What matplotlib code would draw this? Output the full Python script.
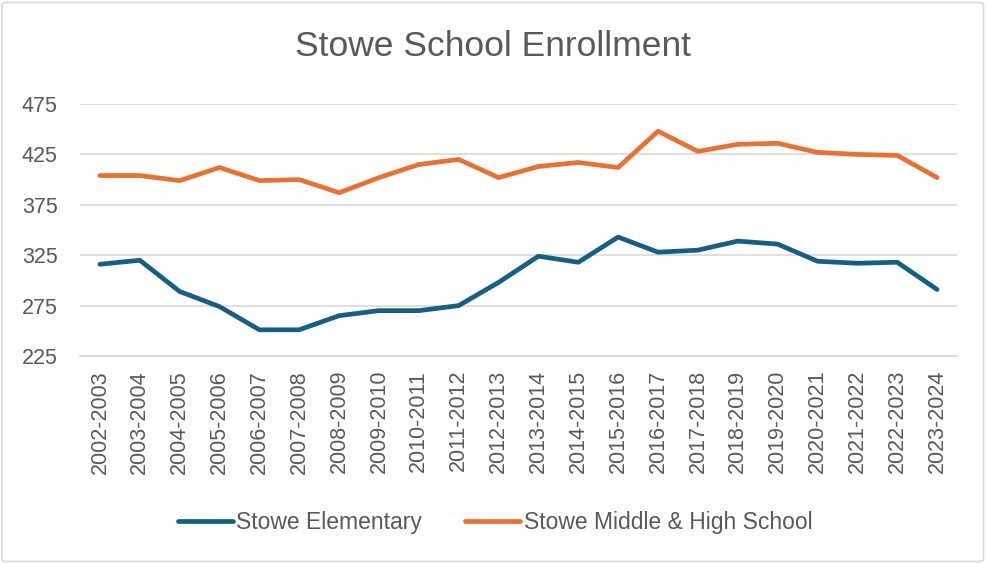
import matplotlib
matplotlib.use("Agg")
import matplotlib.pyplot as plt
from matplotlib.patches import FancyBboxPatch

years = ["2002-2003", "2003-2004", "2004-2005", "2005-2006", "2006-2007", "2007-2008",
         "2008-2009", "2009-2010", "2010-2011", "2011-2012", "2012-2013", "2013-2014",
         "2014-2015", "2015-2016", "2016-2017", "2017-2018", "2018-2019", "2019-2020",
         "2020-2021", "2021-2022", "2022-2023", "2023-2024"]
elementary = [316, 320, 289, 274, 251, 251, 265, 270, 270, 275, 298, 324,
              318, 343, 328, 330, 339, 336, 319, 317, 318, 291]
middle_high = [404, 404, 399, 412, 399, 400, 387, 402, 415, 420, 402, 413,
               417, 412, 448, 428, 435, 436, 427, 425, 424, 402]
yticks = [225, 275, 325, 375, 425, 475]

BLUE = "#156082"
ORANGE = "#E97132"
TXT = "#595959"
GRID = "#D9D9D9"
FONT = "Liberation Sans"

W, H = 986, 563
fig = plt.figure(figsize=(W / 100, H / 100), dpi=100)
ax = fig.add_axes([80 / W, (H - 356) / H, (957 - 80) / W, (356 - 104) / H])

x = list(range(len(years)))
ax.plot(x, elementary, color=BLUE, lw=3.4, solid_capstyle="round", solid_joinstyle="round",
        label="Stowe Elementary")
ax.plot(x, middle_high, color=ORANGE, lw=3.4, solid_capstyle="round", solid_joinstyle="round",
        label="Stowe Middle & High School")

ax.set_xlim(-0.5, len(years) - 0.5)
ax.set_ylim(225, 475)
ax.set_yticks(yticks)
ax.set_yticklabels([str(v) for v in yticks])
ax.set_xticks(x)
ax.set_xticklabels(years, rotation=90)
ax.grid(axis="y", color=GRID, lw=1.2)
ax.set_axisbelow(True)
for s in ["top", "right", "left"]:
    ax.spines[s].set_visible(False)
ax.spines["bottom"].set_color(GRID)
ax.spines["bottom"].set_linewidth(1.2)
ax.tick_params(axis="both", length=0, colors=TXT, labelsize=15.5)
ax.tick_params(axis="y", pad=16)
ax.tick_params(axis="x", pad=10)
for lab in ax.get_xticklabels() + ax.get_yticklabels():
    lab.set_fontfamily(FONT)

fig.text(0.5, (H - 47) / H, "Stowe School Enrollment", ha="center", va="center",
         fontsize=25.5, color=TXT, fontfamily=FONT)

leg = fig.legend(loc="center", bbox_to_anchor=(495 / W, (H - 523) / H), ncol=2, frameon=False,
                 handlelength=2.4, handletextpad=0.15, columnspacing=1.9,
                 prop={"family": FONT, "size": 16.5})
for t in leg.get_texts():
    t.set_color(TXT)

border = FancyBboxPatch((2 / W, 1.5 / H), (W - 4.5) / W, (H - 4) / H,
                        boxstyle="round,pad=0,rounding_size=0.004",
                        transform=fig.transFigure, fill=False, edgecolor=GRID, lw=1.2)
fig.patches.append(border)

fig.savefig("out.png", dpi=100)
